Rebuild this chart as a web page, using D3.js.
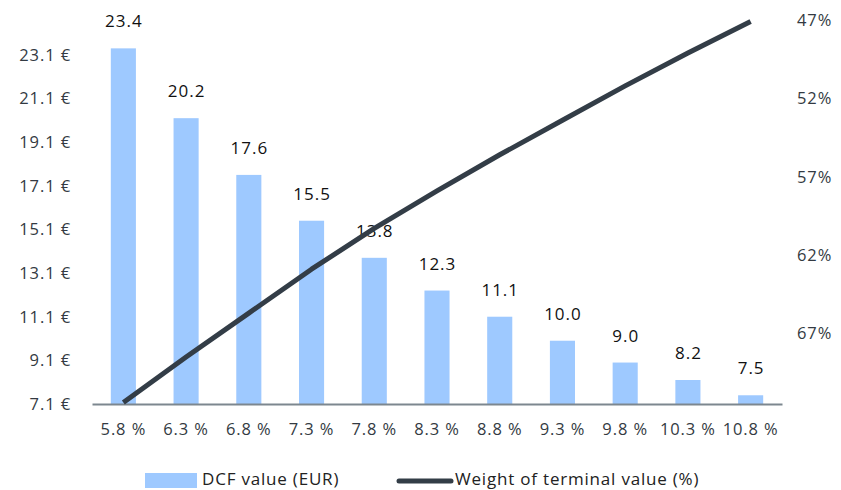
<!DOCTYPE html>
<html>
<head>
<meta charset="utf-8">
<script src="https://cdn.jsdelivr.net/npm/d3@7"></script>
<style>
  body { margin: 0; background: #fff; }
  text { font-family: "Open Sans", sans-serif; }
</style>
</head>
<body>
<script>
var categories = ["5.8 %", "6.3 %", "6.8 %", "7.3 %", "7.8 %", "8.3 %", "8.8 %", "9.3 %", "9.8 %", "10.3 %", "10.8 %"];
var dcfValues = [23.4, 20.2, 17.6, 15.5, 13.8, 12.3, 11.1, 10.0, 9.0, 8.2, 7.5];
var tvWeights = [71.4, 68.5, 65.7, 62.9, 60.3, 57.9, 55.6, 53.4, 51.2, 49.1, 47.1];
var leftTicks = [7.1, 9.1, 11.1, 13.1, 15.1, 17.1, 19.1, 21.1, 23.1];
var rightTicks = [47, 52, 57, 62, 67];

var width = 841;
var height = 490;
var plot = { left: 92, right: 782, top: 20, bottom: 404 };

var svg = d3.select("body").append("svg")
    .attr("width", width)
    .attr("height", height);

var xScale = d3.scaleBand()
    .domain(categories)
    .range([plot.left, plot.right])
    .paddingInner(0.6)
    .paddingOuter(0.3);

var yLeft = d3.scaleLinear()
    .domain([7.1, 24.7])
    .range([plot.bottom, plot.top]);

var yRight = d3.scaleLinear()
    .domain([71.5, 47])
    .range([plot.bottom, plot.top]);

// bars
svg.selectAll("rect.bar")
    .data(dcfValues)
    .enter()
    .append("rect")
    .attr("class", "bar")
    .attr("x", function(d, i) { return xScale(categories[i]); })
    .attr("width", xScale.bandwidth())
    .attr("y", function(d) { return yLeft(d); })
    .attr("height", function(d) { return plot.bottom - yLeft(d); })
    .attr("fill", "#9ec9ff");

// bar labels
svg.selectAll("text.val")
    .data(dcfValues)
    .enter()
    .append("text")
    .attr("class", "val")
    .attr("x", function(d, i) { return xScale(categories[i]) + xScale.bandwidth() / 2 + 0.5; })
    .attr("y", function(d) { return yLeft(d) - 21; })
    .attr("text-anchor", "middle")
    .attr("font-size", 17)
    .attr("letter-spacing", 1)
    .attr("fill", "#111")
    .text(function(d) { return d.toFixed(1); });

// axes
var leftAxis = d3.axisLeft(yLeft)
    .tickValues(leftTicks)
    .tickSize(0)
    .tickPadding(21)
    .tickFormat(function(d) { return d.toFixed(1) + " €"; });

var rightAxis = d3.axisRight(yRight)
    .tickValues(rightTicks)
    .tickSize(0)
    .tickPadding(15)
    .tickFormat(function(d) { return d + "%"; });

var xAxis = d3.axisBottom(xScale)
    .tickSize(0)
    .tickPadding(19);

var leftG = svg.append("g")
    .attr("transform", "translate(" + plot.left + ",0)")
    .call(leftAxis);
var rightG = svg.append("g")
    .attr("transform", "translate(" + plot.right + ",0)")
    .call(rightAxis);
var xG = svg.append("g")
    .attr("transform", "translate(0," + plot.bottom + ")")
    .call(xAxis);

leftG.select(".domain").remove();
rightG.select(".domain").remove();
xG.select(".domain")
    .attr("stroke", "#7d878f")
    .attr("stroke-width", 2);

svg.selectAll(".tick text")
    .attr("font-family", "'Open Sans', sans-serif")
    .attr("font-size", 16.5)
    .attr("letter-spacing", 0.9)
    .attr("fill", "#333a42");

// line
var line = d3.line()
    .x(function(d, i) { return xScale(categories[i]) + xScale.bandwidth() / 2; })
    .y(function(d) { return yRight(d); });

svg.append("path")
    .datum(tvWeights)
    .attr("d", line)
    .attr("fill", "none")
    .attr("stroke", "#333d47")
    .attr("stroke-width", 5)
    .attr("stroke-linejoin", "round");

// legend
var legend = svg.append("g");
legend.append("rect")
    .attr("x", 145)
    .attr("y", 473)
    .attr("width", 52)
    .attr("height", 15)
    .attr("fill", "#9ec9ff");
legend.append("text")
    .attr("x", 202)
    .attr("y", 485)
    .attr("font-size", 17)
    .attr("letter-spacing", 0.8)
    .attr("fill", "#222")
    .text("DCF value (EUR)");
legend.append("line")
    .attr("x1", 399)
    .attr("x2", 451)
    .attr("y1", 481)
    .attr("y2", 481)
    .attr("stroke", "#333d47")
    .attr("stroke-width", 5)
    .attr("stroke-linecap", "round");
legend.append("text")
    .attr("x", 455)
    .attr("y", 485)
    .attr("font-size", 17)
    .attr("letter-spacing", 0.8)
    .attr("fill", "#222")
    .text("Weight of terminal value (%)");
</script>
</body>
</html>
